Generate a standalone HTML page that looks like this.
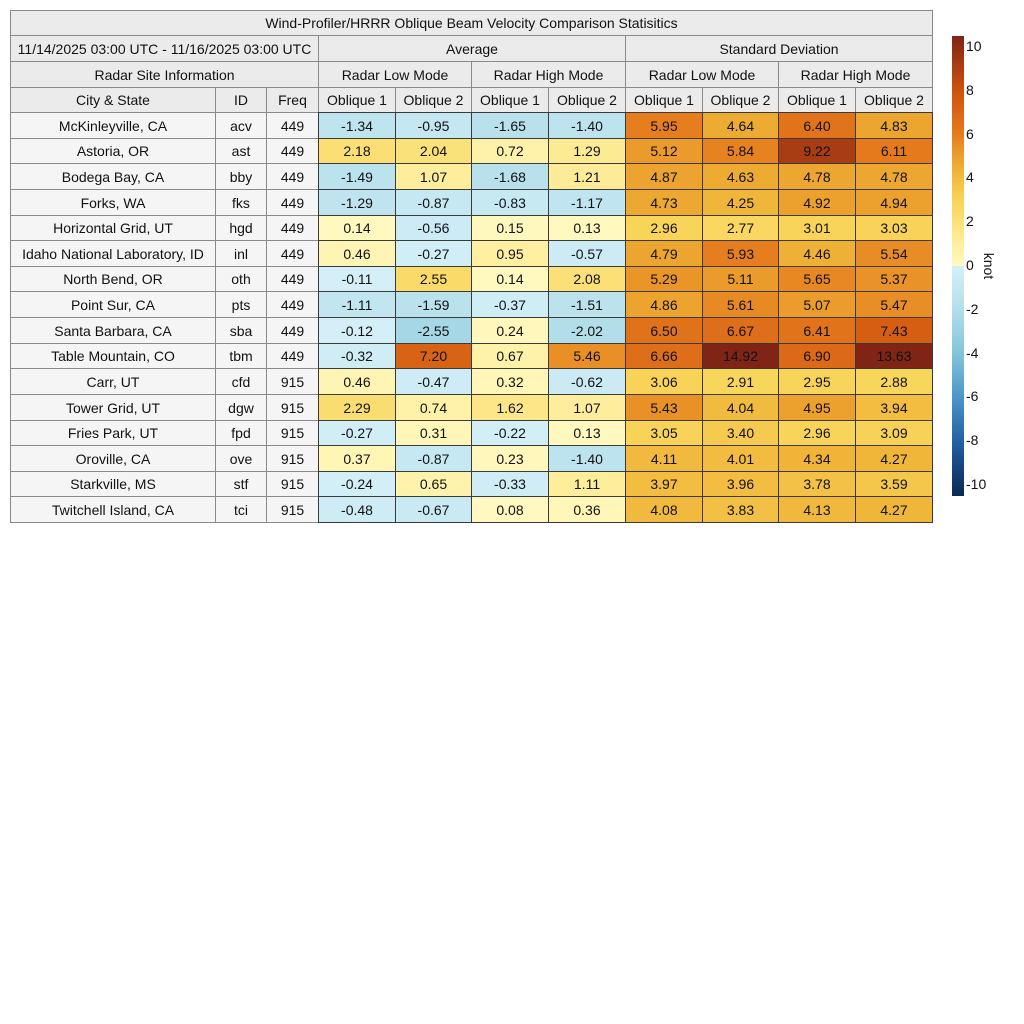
<!DOCTYPE html>
<html><head><meta charset="utf-8">
<style>
body{margin:0;width:1024px;height:1024px;background:#fff;font-family:"Liberation Sans",sans-serif;position:relative;overflow:hidden}
.c{position:absolute;box-sizing:border-box;display:flex;align-items:center;justify-content:center;font-size:14px;color:#111;white-space:nowrap}
.h{background:#ebebeb;border:1px solid #8a8a8a}
.l{background:#f5f5f5;border:1px solid #8a8a8a}
.v{border:1px solid #3a3a3a}
.t{position:absolute;font-size:14px;color:#111}
</style></head><body>
<div id="tbl"></div>
<div id="cb"></div>
<script>
const sites=["McKinleyville, CA","Astoria, OR","Bodega Bay, CA","Forks, WA","Horizontal Grid, UT","Idaho National Laboratory, ID","North Bend, OR","Point Sur, CA","Santa Barbara, CA","Table Mountain, CO","Carr, UT","Tower Grid, UT","Fries Park, UT","Oroville, CA","Starkville, MS","Twitchell Island, CA"];
const ids=["acv","ast","bby","fks","hgd","inl","oth","pts","sba","tbm","cfd","dgw","fpd","ove","stf","tci"];
const freqs=["449","449","449","449","449","449","449","449","449","449","915","915","915","915","915","915"];
const avgLow1=[-1.34,2.18,-1.49,-1.29,0.14,0.46,-0.11,-1.11,-0.12,-0.32,0.46,2.29,-0.27,0.37,-0.24,-0.48];
const avgLow2=[-0.95,2.04,1.07,-0.87,-0.56,-0.27,2.55,-1.59,-2.55,7.20,-0.47,0.74,0.31,-0.87,0.65,-0.67];
const avgHigh1=[-1.65,0.72,-1.68,-0.83,0.15,0.95,0.14,-0.37,0.24,0.67,0.32,1.62,-0.22,0.23,-0.33,0.08];
const avgHigh2=[-1.40,1.29,1.21,-1.17,0.13,-0.57,2.08,-1.51,-2.02,5.46,-0.62,1.07,0.13,-1.40,1.11,0.36];
const sdLow1=[5.95,5.12,4.87,4.73,2.96,4.79,5.29,4.86,6.50,6.66,3.06,5.43,3.05,4.11,3.97,4.08];
const sdLow2=[4.64,5.84,4.63,4.25,2.77,5.93,5.11,5.61,6.67,14.92,2.91,4.04,3.40,4.01,3.96,3.83];
const sdHigh1=[6.40,9.22,4.78,4.92,3.01,4.46,5.65,5.07,6.41,6.90,2.95,4.95,2.96,4.34,3.78,4.13];
const sdHigh2=[4.83,6.11,4.78,4.94,3.03,5.54,5.37,5.47,7.43,13.63,2.88,3.94,3.09,4.27,3.59,4.27];
const cbTicks=[10,8,6,4,2,0,-2,-4,-6,-8,-10];

const posStops=[[0,[255,250,196]],[1.5,[253,232,140]],[3,[248,212,88]],[4.5,[238,176,52]],[6,[230,124,30]],[8,[206,82,14]],[10.5,[128,36,22]]];
const negStops=[[0,[214,240,248]],[2,[178,222,234]],[4,[130,196,218]],[6,[76,150,200]],[8,[34,96,164]],[10.5,[10,40,84]]];
function color(v){
  const s=v>=0?posStops:negStops; let a=Math.min(Math.abs(v),10.5);
  for(let i=1;i<s.length;i++){ if(a<=s[i][0]){const t=(a-s[i-1][0])/(s[i][0]-s[i-1][0]);
    const c=s[i-1][1].map((x,k)=>Math.round(x+(s[i][1][k]-x)*t)); return `rgb(${c})`;}}
  return `rgb(${s[s.length-1][1]})`;
}
const X=[10,215,266,318,395,471,548,625,702,778,855,932];
const tbl=document.getElementById('tbl');
function cell(x0,x1,y0,y1,txt,cls,name,bg){
  const d=document.createElement('div'); d.className='c '+cls;
  d.style.left=x0+'px';d.style.top=y0+'px';d.style.width=(x1-x0+1)+'px';d.style.height=(y1-y0+1)+'px';
  if(bg)d.style.background=bg; d.textContent=txt;
  
  
  tbl.appendChild(d);
}
cell(10,932,10,35,"Wind-Profiler/HRRR Oblique Beam Velocity Comparison Statisitics","h","table-title");
cell(10,318,35,61,"11/14/2025 03:00 UTC - 11/16/2025 03:00 UTC","h","date-range");
cell(318,625,35,61,"Average","h","average-header");
cell(625,932,35,61,"Standard Deviation","h","std-header");
cell(10,318,61,87,"Radar Site Information","h","site-info-header");
cell(318,471,61,87,"Radar Low Mode","h","avg-low-mode-header");
cell(471,625,61,87,"Radar High Mode","h","avg-high-mode-header");
cell(625,778,61,87,"Radar Low Mode","h","std-low-mode-header");
cell(778,932,61,87,"Radar High Mode","h","std-high-mode-header");
const hdr=["City & State","ID","Freq","Oblique 1","Oblique 2","Oblique 1","Oblique 2","Oblique 1","Oblique 2","Oblique 1","Oblique 2"];
hdr.forEach((h,i)=>cell(X[i],X[i+1],87,112,h,"h","column-header"));
const cols=[avgLow1,avgLow2,avgHigh1,avgHigh2,sdLow1,sdLow2,sdHigh1,sdHigh2];
const rh=(522-112)/sites.length;
sites.forEach((s,r)=>{
  const y0=Math.round(112+r*rh), y1=Math.round(112+(r+1)*rh);
  cell(X[0],X[1],y0,y1,s,"l","site-name");
  cell(X[1],X[2],y0,y1,ids[r],"l","site-id");
  cell(X[2],X[3],y0,y1,freqs[r],"l","site-freq");
  cols.forEach((col,j)=>{const v=col[r];
    cell(X[3+j],X[4+j],y0,y1,v.toFixed(2),"v","value-cell",color(v));});
});
// colorbar
const cb=document.getElementById('cb');
const cbTop=36,cbBot=496,vmax=10.5,cbX=952,cbW=12;
const yOf=v=>cbTop+(vmax-v)/(2*vmax)*(cbBot-cbTop);
for(let y=cbTop;y<cbBot;y++){
  const v=vmax-(y-cbTop+0.5)/(cbBot-cbTop)*2*vmax;
  const d=document.createElement('div');
  d.style.cssText=`position:absolute;left:${cbX}px;top:${y}px;width:${cbW}px;height:1px;background:${color(v)}`;
  
  
  cb.appendChild(d);
}
cbTicks.forEach(t=>{
  const d=document.createElement('div'); d.className='t';
  d.style.left='966px'; d.style.top=(yOf(t)-9)+'px'; d.textContent=t;
  
  
  cb.appendChild(d);
});
const u=document.createElement('div'); u.className='t'; u.textContent='knot';
u.style.left='976px';u.style.top='258px';u.style.transform='rotate(90deg)';


cb.appendChild(u);
</script>
</body></html>
